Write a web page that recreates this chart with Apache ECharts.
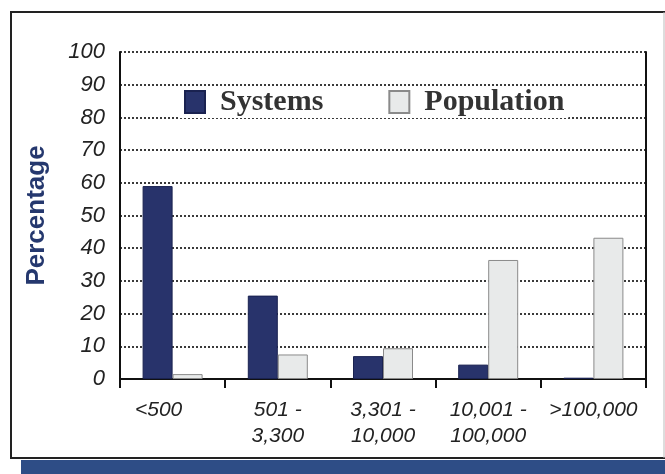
<!DOCTYPE html>
<html>
<head>
<meta charset="utf-8">
<script src="https://cdn.jsdelivr.net/npm/echarts@6/dist/echarts.min.js"></script>
<style>html,body{margin:0;padding:0;background:#fff}#c{width:665px;height:474px}</style>
</head>
<body>
<div id="c"></div>
<script>
var categories = ['<500', '501 -\n3,300', '3,301 -\n10,000', '10,001 -\n100,000', '>100,000'];
var systems = [59, 25.5, 7, 4.4, 0.4];
var population = [1.5, 7.5, 9.4, 36.4, 43.2];
var yTicks = [0, 10, 20, 30, 40, 50, 60, 70, 80, 90, 100];

var labelFont = {fontFamily: 'Liberation Sans', fontStyle: 'italic', fontSize: 21, color: '#222', lineHeight: 26};

var chart = echarts.init(document.getElementById('c'), null, {renderer: 'canvas'});
chart.setOption({
  animation: false,
  backgroundColor: '#fff',
  graphic: [
    {type: 'rect', shape: {x: 11, y: 12, width: 670, height: 446}, style: {fill: 'none', stroke: '#222', lineWidth: 2}, z: -1},
    {type: 'rect', shape: {x: 21, y: 460, width: 660, height: 20}, style: {fill: '#2e4d86'}, z: -1},
    {type: 'line', shape: {x1: 664, y1: 12, x2: 664, y2: 458}, style: {stroke: '#bbb', lineWidth: 1}, z: -1}
  ],
  legend: {
    left: 180, top: 86,
    itemWidth: 20, itemHeight: 22, itemGap: 65,
    padding: [1, 4],
    backgroundColor: '#fff',
    icon: 'rect',
    textStyle: {fontFamily: 'Liberation Serif', fontWeight: 'bold', fontSize: 30, color: '#333', padding: [0, 0, 0, 10]},
    data: ['Systems', 'Population']
  },
  grid: {left: 120, right: 19, top: 52, bottom: 95},
  xAxis: {
    type: 'category',
    data: categories,
    axisLine: {lineStyle: {color: '#111', width: 2}},
    axisTick: {show: true, length: 9, lineStyle: {color: '#111', width: 2}},
    axisLabel: Object.assign({}, labelFont, {
      margin: 18, interval: 0,
      formatter: function (v, i) { return i === 0 ? '{s|' + v + '}' : v; },
      rich: {s: Object.assign({}, labelFont, {padding: [0, 28, 0, 0]})}
    })
  },
  yAxis: [{
    type: 'value', min: 0, max: 100, interval: 10,
    name: 'Percentage', nameLocation: 'middle', nameGap: 70, nameRotate: 90,
    nameTextStyle: {fontFamily: 'Liberation Sans', fontWeight: 'bold', fontSize: 26, color: '#25386e'},
    axisLine: {show: true, lineStyle: {color: '#111', width: 2}},
    axisTick: {show: false},
    axisLabel: {fontFamily: 'Liberation Sans', fontStyle: 'italic', fontSize: 22, color: '#222', margin: 15,
      formatter: function (v) { return yTicks.indexOf(v) >= 0 ? String(v) : ''; }},
    splitLine: {show: true, lineStyle: {color: '#3a3a3a', width: 2, type: [2, 2]}}
  }, {
    type: 'value', min: 0, max: 100, interval: 10, position: 'right',
    axisLine: {show: true, lineStyle: {color: '#111', width: 2}},
    axisTick: {show: false}, axisLabel: {show: false}, splitLine: {show: false}
  }],
  series: [{
    name: 'Systems', type: 'bar', data: systems,
    barWidth: 30, barGap: '0%',
    itemStyle: {color: '#28336b', borderColor: '#1a2250', borderWidth: 1}
  }, {
    name: 'Population', type: 'bar', data: population,
    barWidth: 30, barGap: '0%',
    itemStyle: {color: '#e8eaea', borderColor: '#8a8a8a', borderWidth: 1}
  }]
});
</script>
</body>
</html>
